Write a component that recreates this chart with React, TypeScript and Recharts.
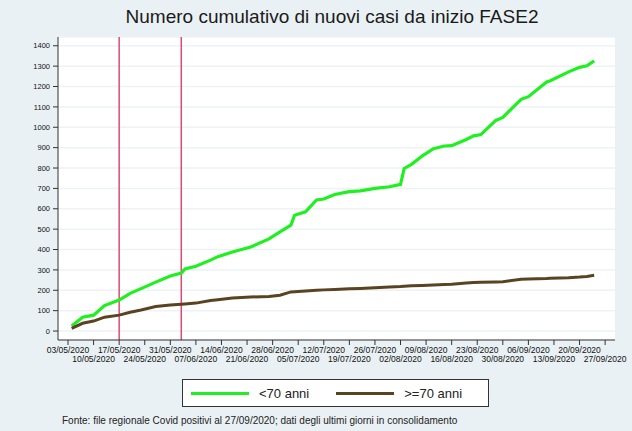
import React from 'react'
import {
  CartesianGrid,
  Line,
  LineChart,
  ReferenceLine,
  XAxis,
  YAxis,
} from 'recharts'

// giorni dal 03/05/2020
const days = [
  1, 4, 7, 10, 14, 17, 20, 24, 28, 31, 32, 35, 39, 41, 45, 50, 55, 58, 61, 62,
  65, 68, 70, 73, 77, 80, 84, 88, 91, 92, 94, 97, 100, 103, 105, 109, 111, 113,
  117, 119, 124, 126, 131, 132, 137, 140, 142, 144,
]

const under70 = [
  25, 68, 78, 125, 152, 185, 208, 240, 270, 284, 305, 318, 348, 365, 388, 412,
  452, 487, 520, 568, 585, 643, 648, 670, 684, 688, 700, 708, 720, 798, 818, 860,
  895, 908, 910, 940, 958, 964, 1033, 1048, 1137, 1150, 1222, 1228, 1272, 1294,
  1302, 1326,
]

const over70 = [
  13, 38, 49, 68, 78, 92, 103, 120, 128, 132, 133, 137, 150, 154, 162, 167, 170,
  176, 192, 193, 196, 200, 202, 204, 207, 209, 213, 216, 218, 220, 222, 224, 226,
  228, 230, 236, 238, 239, 241, 242, 254, 255, 258, 259, 262, 265, 268, 274,
]

const xTickLabels = [
  '03/05/2020', '10/05/2020', '17/05/2020', '24/05/2020', '31/05/2020',
  '07/06/2020', '14/06/2020', '21/06/2020', '28/06/2020', '05/07/2020',
  '12/07/2020', '19/07/2020', '26/07/2020', '02/08/2020', '09/08/2020',
  '16/08/2020', '23/08/2020', '30/08/2020', '06/09/2020', '13/09/2020',
  '20/09/2020', '27/09/2020',
]

const yTicks = [0, 100, 200, 300, 400, 500, 600, 700, 800, 900, 1000, 1100, 1200, 1300, 1400]

// 18/05 riaperture, 03/06 spostamenti tra regioni
const phaseDays = [14, 31]

const data = days.map((d, i) => ({ day: d, under: under70[i], over: over70[i] }))
const xTicks = xTickLabels.map((_, i) => i * 7)

const GREEN = '#1ff01f'
const BROWN = '#5a4320'

const DateTick = (props: any) => {
  const { x, y, payload } = props
  const i = Math.round(payload.value / 7)
  const row = i % 2
  return (
    <text
      x={x}
      y={y + 8 + row * 9}
      textAnchor="middle"
      fontSize={8.5}
      fill="#111"
      fontFamily="Liberation Sans, Arial, sans-serif"
    >
      {xTickLabels[i]}
    </text>
  )
}

export default function App() {
  return (
    <div
      style={{
        position: 'absolute',
        left: 0,
        top: 0,
        width: 632,
        height: 431,
        background: '#eaf1f4',
        fontFamily: 'Liberation Sans, Arial, sans-serif',
      }}
    >
      <div
        style={{
          position: 'absolute',
          left: 0,
          top: 6,
          width: 664,
          textAlign: 'center',
          fontSize: 19,
          color: '#1a1a1a',
        }}
      >
        Numero cumulativo di nuovi casi da inizio FASE2
      </div>
      <LineChart
        width={632}
        height={431}
        data={data}
        margin={{ top: 37, right: 17, bottom: 0, left: 0 }}
        style={{ position: 'absolute', left: 0, top: 0 }}
      >
        <CartesianGrid vertical={false} stroke="#edf2f5" fill="#ffffff" strokeWidth={1.5} />
        <XAxis
          dataKey="day"
          type="number"
          domain={[-2.74, 149.7]}
          allowDataOverflow
          ticks={xTicks}
          interval={0}
          height={91}
          tickSize={5}
          tickMargin={0}
          stroke="#333"
          tick={<DateTick />}
        />
        <YAxis
          type="number"
          domain={[-44, 1443]}
          allowDataOverflow
          ticks={yTicks}
          interval={0}
          width={58}
          tickSize={5}
          tickMargin={3}
          stroke="#333"
          tick={{ fontSize: 7.5, fill: '#111' }}
        />
        {phaseDays.map((d) => (
          <ReferenceLine key={d} x={d} stroke="#dc4a74" strokeWidth={1.5} />
        ))}
        <Line
          dataKey="under"
          stroke={GREEN}
          strokeWidth={3.2}
          dot={false}
          isAnimationActive={false}
        />
        <Line
          dataKey="over"
          stroke={BROWN}
          strokeWidth={3}
          dot={false}
          isAnimationActive={false}
        />
      </LineChart>
      <div
        style={{
          position: 'absolute',
          left: 182,
          top: 379,
          width: 305,
          height: 26,
          background: '#fff',
          border: '1px solid #333',
          display: 'flex',
          alignItems: 'center',
          fontSize: 13,
          color: '#222',
        }}
      >
        <span style={{ marginLeft: 8, width: 58, height: 3, background: GREEN }} />
        <span style={{ marginLeft: 10 }}>{'<70 anni'}</span>
        <span style={{ marginLeft: 27, width: 58, height: 3, background: BROWN }} />
        <span style={{ marginLeft: 10 }}>{'>=70 anni'}</span>
      </div>
      <div
        style={{
          position: 'absolute',
          left: 62,
          top: 415,
          fontSize: 10,
          color: '#222',
        }}
      >
        Fonte: file regionale Covid positivi al 27/09/2020; dati degli ultimi giorni in consolidamento
      </div>
    </div>
  )
}
